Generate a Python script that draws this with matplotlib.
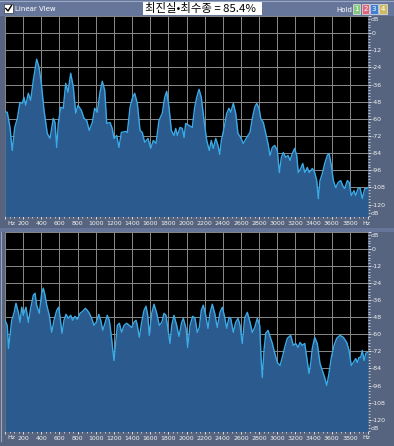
import matplotlib
matplotlib.use("Agg")
import matplotlib.pyplot as plt
from matplotlib.patches import Rectangle
from matplotlib.ticker import MultipleLocator
import matplotlib.transforms as mtransforms

# ---------------- data ----------------
top_hz = [0, 25, 55, 80, 107, 136, 165, 191, 209, 228,
          257, 283, 312, 349, 375, 400, 430, 466, 496, 532,
          551, 570, 587, 614, 642, 669, 694, 724, 753, 779,
          804, 841, 871, 900, 929, 962, 988, 1017, 1047, 1072,
          1099, 1121, 1157, 1182, 1201, 1231, 1256, 1282, 1330, 1348,
          1378, 1403, 1429, 1458, 1488, 1513, 1539, 1576, 1606, 1634,
          1664, 1697, 1733, 1760, 1782, 1807, 1833, 1862, 1881, 1899,
          1929, 1954, 1973, 1991, 2028, 2064, 2090, 2113, 2138, 2163,
          2193, 2223, 2251, 2273, 2295, 2322, 2347, 2366, 2384, 2413,
          2443, 2468, 2487, 2516, 2542, 2567, 2597, 2626, 2664, 2700,
          2725, 2752, 2774, 2799, 2818, 2846, 2873, 2898, 2920, 2946,
          2972, 3001, 3023, 3045, 3067, 3093, 3119, 3141, 3166, 3192,
          3214, 3232, 3259, 3281, 3303, 3331, 3353, 3387, 3413, 3435,
          3453, 3471, 3497, 3523, 3552, 3571, 3596, 3618, 3644, 3670,
          3699, 3721, 3743, 3772, 3794, 3816, 3846, 3864, 3890, 3912,
          3937, 3964, 3986, 4000]
top_db = [-55, -55.4, -66, -82.1, -66, -59.7, -48.4, -49.1, -44.9, -50.5,
          -42.1, -47, -33, -18.2, -23.9, -35.1, -54, -70.2, -73.7, -59.7,
          -62.5, -80, -63.2, -51.9, -52.6, -35.1, -41.4, -28.1, -37.9, -56.1,
          -50.5, -54, -59.7, -61.1, -68.1, -62.5, -52.6, -55.4, -41.4, -33.7,
          -40, -63.2, -62.5, -66.7, -73.7, -71.6, -80, -69.5, -68.8, -69.5,
          -51.9, -45.6, -42.1, -49.1, -68.1, -69.5, -76.5, -73.7, -80.7, -75.1,
          -77.2, -61.1, -56.1, -44.9, -40.7, -51.9, -68.1, -71.6, -66.7, -71.6,
          -66, -66.7, -73, -63.2, -64.6, -66, -51.9, -44.9, -39.3, -44.9,
          -61.1, -75.1, -82.1, -75.1, -80.7, -73.7, -78.6, -84.9, -75.1, -66.7,
          -56.1, -52.6, -55.4, -49.1, -56.1, -70.2, -73, -77.2, -73, -69.5,
          -59.7, -51.9, -49.1, -52.6, -59.7, -62.5, -70.2, -77.2, -85.6, -80,
          -78.6, -82.1, -97.6, -87, -83.5, -87, -85.6, -89.1, -84.2, -80.7,
          -85.6, -97.6, -94.7, -91.2, -97.6, -94, -97.6, -94.7, -97.6, -103.2,
          -115.8, -103.2, -98.3, -91.2, -85.6, -84.2, -92.6, -103.2, -108.1, -104.6,
          -103.2, -106.7, -108.8, -103.2, -104.6, -113.7, -110.2, -113.7, -108.8, -108.1,
          -115.8, -108.8, -108.8, -108]

bot_hz = [0, 25, 39, 74, 99, 121, 147, 165, 184, 202,
          231, 257, 283, 312, 331, 349, 378, 404, 422, 441,
          460, 488, 515, 540, 570, 592, 614, 628, 650, 672,
          698, 724, 746, 771, 797, 827, 856, 885, 907, 929,
          955, 981, 1011, 1033, 1055, 1077, 1102, 1127, 1149, 1168,
          1201, 1238, 1260, 1286, 1311, 1341, 1370, 1396, 1422, 1444,
          1458, 1480, 1506, 1532, 1554, 1573, 1590, 1617, 1642, 1672,
          1700, 1727, 1752, 1774, 1800, 1818, 1837, 1862, 1892, 1917,
          1947, 1965, 1995, 2013, 2039, 2068, 2094, 2119, 2141, 2163,
          2185, 2212, 2237, 2259, 2284, 2311, 2339, 2369, 2395, 2421,
          2443, 2468, 2487, 2516, 2542, 2568, 2590, 2615, 2641, 2670,
          2700, 2725, 2752, 2780, 2807, 2818, 2835, 2854, 2873, 2898,
          2946, 2964, 3001, 3031, 3056, 3082, 3111, 3148, 3177, 3203,
          3229, 3251, 3276, 3303, 3325, 3350, 3369, 3386, 3413, 3441,
          3471, 3497, 3523, 3545, 3570, 3596, 3626, 3655, 3692, 3728,
          3766, 3791, 3816, 3838, 3865, 3882, 3901, 3920, 3937, 3956,
          3975, 3993, 4000]
bot_db = [-50.1, -53.7, -69.9, -50.1, -45.2, -38.1, -44.5, -51.5, -40.9, -46.6,
          -40.9, -51.5, -41.7, -32.5, -31.1, -39.5, -45.2, -31.1, -27.5, -32.5,
          -39.5, -46.6, -58.6, -50.1, -43.1, -40.9, -51.5, -59.3, -50.1, -45.9,
          -48.7, -46.6, -50.1, -47.3, -49.4, -45.2, -43.8, -41.7, -43.1, -45.2,
          -48.7, -53.7, -50.8, -45.9, -50.1, -57.2, -52.2, -46.6, -50.1, -59.3,
          -78.4, -53.7, -52.2, -58.6, -53.7, -52.2, -53.7, -55.1, -51.5, -50.1,
          -53.7, -62.1, -51.5, -43.1, -40.2, -46.6, -60.7, -45.2, -38.8, -45.2,
          -53.7, -51.5, -45.2, -46.6, -58.6, -66.4, -53.7, -46.6, -53.7, -61.4,
          -51.5, -48.7, -55.8, -69.2, -53.7, -47.3, -48.7, -58.6, -55.1, -43.1,
          -39.5, -46.6, -55.8, -45.2, -38.8, -45.2, -55.1, -44.5, -40.9, -48,
          -55.8, -48, -48.7, -58.6, -51.5, -48.7, -53.7, -66.4, -48.7, -44.5,
          -51.5, -58.6, -55.1, -48.7, -53.7, -71.3, -90.4, -71.3, -59.3, -57.2,
          -66.4, -71.3, -79.8, -81.9, -76.2, -69.2, -62.8, -60.7, -67.8, -66.4,
          -69.2, -65.7, -67.8, -66.4, -76.2, -87.5, -80.5, -69.9, -62.1, -66.4,
          -80.5, -85.4, -90.4, -96, -87.5, -76.2, -67.8, -62.8, -60.7, -62.1,
          -65.7, -71.3, -81.9, -79.8, -77, -79.8, -76.2, -76.2, -71.3, -78.4,
          -73.4, -72.7, -72.7]

freq_ticks = list(range(200, 3801, 200))
db_ticks = list(range(-120, 1, 12))
title_text = "최진실•최수종 = 85.4%"
hold_buttons = ["1", "2", "3", "4"]

# ---------------- style ----------------
W, H = 394, 446
HEADER = "#66769a"
STRIP = "#56647f"
FILL = "#2b5a8e"
EDGE = "#3aaae6"
GRID = "#8a8a8a"
BTN_COLORS = ["#86c97c", "#e0667e", "#3f7fd2", "#cdbb62"]


def rect(x0, y0, x1, y1):
    return [x0 / W, 1 - y1 / H, (x1 - x0) / W, (y1 - y0) / H]


fig = plt.figure(figsize=(W / 100, H / 100), dpi=100)
fig.patch.set_facecolor(STRIP)

bg = fig.add_axes([0, 0, 1, 1], zorder=0)
bg.set_xlim(0, W)
bg.set_ylim(H, 0)
bg.axis("off")
bg.add_patch(Rectangle((0, 0), W, 16, fc=HEADER, ec="none"))
bg.add_patch(Rectangle((0, 228), W, 4, fc=HEADER, ec="none"))
bg.plot([0, W], [0.5, 0.5], color="#9aa8c4", lw=0.8)
bg.plot([1.5, 1.5], [232, 441], color="#9aa8c4", lw=0.8)

# header contents
bg.add_patch(Rectangle((4, 4), 9, 9, fc="white", ec="#333333", lw=0.5))
bg.plot([5.8, 8, 11.5], [8.5, 11, 5.5], color="black", lw=1.0)
bg.text(15, 9, "Linear View", fontsize=5, color="white", va="center", ha="left")
bg.add_patch(Rectangle((143, 1), 119, 14, fc="white", ec="none"))
bg.text(145, 8.5, title_text, fontsize=8.2, color="black", va="center", ha="left",
        family=["Noto Sans CJK KR", "DejaVu Sans"])
bg.text(336, 9.5, "Hold", fontsize=5, color="white", va="center", ha="left")
for i, (lab, c) in enumerate(zip(hold_buttons, BTN_COLORS)):
    x0 = 353 + i * 8.7
    bg.add_patch(Rectangle((x0, 4), 7.5, 10, fc=c, ec="#e8e8e8", lw=0.5))
    bg.text(x0 + 3.75, 9.3, lab, fontsize=5, color="white", ha="center", va="center")


def panel(px, hz, db):
    ax = fig.add_axes(rect(*px), zorder=1)
    ax.set_facecolor("black")
    ax.set_xlim(0, 4000)
    ax.set_ylim(-128, 12)
    ax.set_xticks([0] + freq_ticks + [4000])
    ax.set_xticklabels([""] + [str(v) for v in freq_ticks] + [""])
    ax.xaxis.set_minor_locator(MultipleLocator(50))
    ax.set_yticks(db_ticks + [12])
    ax.set_yticklabels([str(v) for v in db_ticks] + [""])
    ax.yaxis.tick_right()
    ax.yaxis.set_minor_locator(MultipleLocator(2))
    ax.set_axisbelow(True)
    ax.grid(True, which="major", color=GRID, lw=0.7)
    ax.tick_params(which="both", colors="#f0f0f0", labelsize=4.5, direction="out")
    ax.tick_params(axis="x", which="major", length=2.2, width=0.6, pad=1.2)
    ax.tick_params(axis="x", which="minor", length=1.2, width=0.5)
    ax.tick_params(axis="y", which="major", length=2, width=0.6, pad=0.8)
    ax.tick_params(axis="y", which="minor", length=1.3, width=0.5)
    for s in ax.spines.values():
        s.set_visible(False)
    ax.fill_between(hz, db, -130, color=FILL, lw=0, zorder=2)
    ax.plot(hz, db, color=EDGE, lw=1.0, zorder=3)
    tr = mtransforms.blended_transform_factory(ax.transAxes, ax.transData)
    ax.text(1.008, 9.5, "dB", transform=tr, fontsize=4.5, color="#f0f0f0",
            ha="left", va="center")
    ax.text(1.008, -126, "dB", transform=tr, fontsize=4.5, color="#f0f0f0",
            ha="left", va="center")
    trx = mtransforms.blended_transform_factory(ax.transData, ax.transAxes)
    ax.text(30, -0.035, "Hz", transform=trx, fontsize=4.5, color="#f0f0f0",
            ha="left", va="center")
    ax.text(3935, -0.035, "Hz", transform=trx, fontsize=4.5, color="#f0f0f0",
            ha="left", va="center")
    return ax


panel((5, 16, 368, 216), top_hz, top_db)
panel((5, 232, 368, 431), bot_hz, bot_db)

fig.savefig("out.png", dpi=100, facecolor=fig.get_facecolor())
